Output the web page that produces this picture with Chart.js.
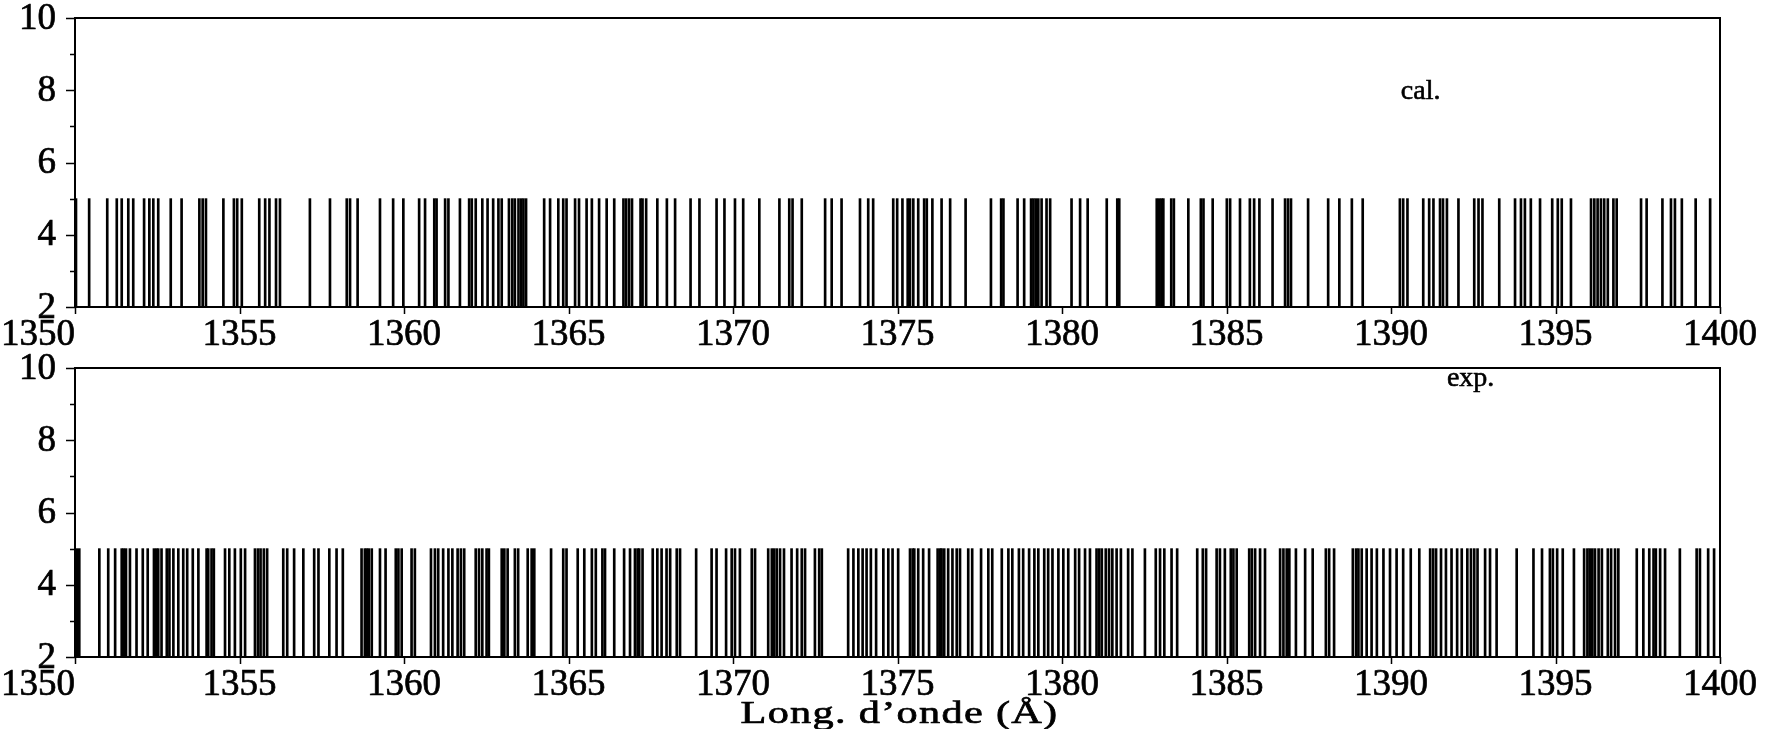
<!DOCTYPE html>
<html>
<head>
<meta charset="utf-8">
<script src="https://cdn.jsdelivr.net/npm/chart.js@4.4.1/dist/chart.umd.min.js"></script>
<style>
  html, body { margin: 0; padding: 0; background: #fff; width: 1785px; height: 729px; overflow: hidden; }
  .panel { position: absolute; left: 0; width: 1785px; }
  #p1 { top: 0; height: 350px; }
  #p2 { top: 350px; height: 379px; }
</style>
</head>
<body>
<div class="panel" id="p1"><canvas id="calChart" width="1785" height="350"></canvas></div>
<div class="panel" id="p2"><canvas id="expChart" width="1785" height="379"></canvas></div>
<script>
// Line positions (Å), calculated spectrum
const calLines = [
  1350.03, 1350.43, 1350.98, 1351.27, 1351.42, 1351.62, 1351.77, 1352.10, 1352.26, 1352.38,
  1352.53, 1352.91, 1353.24, 1353.78, 1353.88, 1353.98, 1354.51, 1354.83, 1354.93, 1355.07,
  1355.60, 1355.78, 1355.91, 1356.11, 1356.23, 1357.14, 1357.75, 1358.26, 1358.36, 1358.59,
  1359.27, 1359.67, 1359.98, 1360.46, 1360.64, 1360.92, 1360.99, 1361.25, 1361.35, 1361.70,
  1361.98, 1362.06, 1362.18, 1362.38, 1362.54, 1362.71, 1362.87, 1362.97, 1363.19, 1363.29,
  1363.37, 1363.48, 1363.56, 1363.63, 1363.71, 1364.26, 1364.44, 1364.69, 1364.84, 1364.94,
  1365.20, 1365.32, 1365.55, 1365.71, 1365.93, 1366.16, 1366.39, 1366.67, 1366.75, 1366.84,
  1366.93, 1367.19, 1367.25, 1367.36, 1367.70, 1367.99, 1368.24, 1368.71, 1368.98, 1369.50,
  1369.74, 1370.06, 1370.31, 1370.80, 1371.41, 1371.71, 1371.81, 1372.09, 1372.80, 1373.00,
  1373.30, 1373.86, 1374.11, 1374.26, 1374.87, 1374.99, 1375.15, 1375.31, 1375.38, 1375.48,
  1375.63, 1375.81, 1375.89, 1376.06, 1376.34, 1376.60, 1377.07, 1377.84, 1378.15, 1378.22,
  1378.65, 1378.85, 1379.06, 1379.13, 1379.20, 1379.28, 1379.38, 1379.53, 1379.64, 1380.29,
  1380.55, 1380.78, 1381.36, 1381.68, 1381.74, 1382.88, 1382.95, 1383.02, 1383.08, 1383.32,
  1383.40, 1383.84, 1384.22, 1384.30, 1384.58, 1385.01, 1385.11, 1385.41, 1385.71, 1385.84,
  1386.00, 1386.40, 1386.78, 1386.87, 1386.96, 1387.48, 1388.09, 1388.43, 1388.81, 1389.14,
  1390.27, 1390.37, 1390.50, 1390.98, 1391.16, 1391.29, 1391.49, 1391.58, 1391.70, 1392.05,
  1392.53, 1392.66, 1392.78, 1393.29, 1393.77, 1393.95, 1394.07, 1394.25, 1394.53, 1394.90,
  1395.07, 1395.19, 1395.47, 1396.08, 1396.18, 1396.28, 1396.38, 1396.48, 1396.59, 1396.76,
  1396.86, 1397.60, 1397.77, 1398.25, 1398.51, 1398.63, 1398.84, 1399.26, 1399.70
];

// Line positions (Å), observed spectrum
const expLines = [
  1350.05, 1350.13, 1350.74, 1351.01, 1351.22, 1351.42, 1351.48, 1351.55, 1351.67, 1351.87,
  1352.06, 1352.21, 1352.40, 1352.47, 1352.53, 1352.63, 1352.79, 1352.87, 1352.99, 1353.14,
  1353.29, 1353.41, 1353.58, 1353.75, 1354.00, 1354.05, 1354.15, 1354.22, 1354.56, 1354.69,
  1354.86, 1355.04, 1355.17, 1355.47, 1355.56, 1355.64, 1355.74, 1355.84, 1356.33, 1356.45,
  1356.66, 1356.94, 1357.27, 1357.40, 1357.73, 1357.95, 1358.14, 1358.71, 1358.81, 1358.87,
  1358.93, 1359.02, 1359.27, 1359.44, 1359.75, 1359.83, 1359.93, 1360.23, 1360.33, 1360.82,
  1360.94, 1361.04, 1361.19, 1361.35, 1361.47, 1361.63, 1361.73, 1361.83, 1362.18, 1362.28,
  1362.38, 1362.51, 1362.58, 1362.97, 1363.05, 1363.15, 1363.37, 1363.47, 1363.76, 1363.88,
  1363.96, 1364.47, 1364.84, 1364.94, 1365.28, 1365.48, 1365.71, 1365.83, 1366.03, 1366.11,
  1366.39, 1366.69, 1366.87, 1367.02, 1367.10, 1367.15, 1367.25, 1367.56, 1367.70, 1367.83,
  1367.98, 1368.09, 1368.29, 1368.39, 1368.88, 1369.35, 1369.50, 1369.79, 1369.96, 1370.06,
  1370.21, 1370.57, 1370.67, 1371.07, 1371.18, 1371.25, 1371.33, 1371.43, 1371.55, 1371.78,
  1371.95, 1372.09, 1372.19, 1372.49, 1372.62, 1372.70, 1373.50, 1373.66, 1373.81, 1373.94,
  1374.06, 1374.19, 1374.35, 1374.57, 1374.72, 1374.85, 1375.02, 1375.38, 1375.46, 1375.51,
  1375.63, 1375.78, 1375.96, 1376.22, 1376.30, 1376.34, 1376.42, 1376.54, 1376.67, 1376.80,
  1376.90, 1377.15, 1377.27, 1377.54, 1377.76, 1377.88, 1378.17, 1378.37, 1378.49, 1378.69,
  1378.82, 1379.00, 1379.16, 1379.28, 1379.46, 1379.58, 1379.71, 1379.89, 1380.04, 1380.19,
  1380.40, 1380.52, 1380.70, 1380.85, 1381.05, 1381.13, 1381.21, 1381.33, 1381.43, 1381.53,
  1381.66, 1381.79, 1382.01, 1382.14, 1382.52, 1382.85, 1382.98, 1383.11, 1383.33, 1383.50,
  1384.11, 1384.28, 1384.38, 1384.70, 1384.80, 1384.95, 1385.13, 1385.21, 1385.31, 1385.69,
  1385.77, 1385.87, 1386.02, 1386.17, 1386.63, 1386.73, 1386.83, 1386.91, 1387.11, 1387.39,
  1387.62, 1388.02, 1388.12, 1388.27, 1388.84, 1388.94, 1389.01, 1389.11, 1389.26, 1389.41,
  1389.57, 1389.77, 1389.97, 1390.17, 1390.37, 1390.60, 1390.86, 1391.19, 1391.28, 1391.37,
  1391.52, 1391.67, 1391.84, 1392.01, 1392.15, 1392.32, 1392.43, 1392.53, 1392.63, 1392.86,
  1393.01, 1393.21, 1393.82, 1394.33, 1394.59, 1394.83, 1394.92, 1395.05, 1395.22, 1395.56,
  1395.87, 1395.97, 1396.04, 1396.12, 1396.20, 1396.31, 1396.41, 1396.59, 1396.69, 1396.81,
  1396.91, 1397.47, 1397.67, 1397.85, 1397.98, 1398.05, 1398.18, 1398.33, 1398.78, 1399.29,
  1399.39, 1399.64, 1399.82
];

// Every stick runs from the baseline up to the same height
const stickBase = 2;
const stickTop = 5;

// Axis ticks
const xTickLabels = [1350, 1355, 1360, 1365, 1370, 1375, 1380, 1385, 1390, 1395, 1400];
const yTickLabels = [2, 4, 6, 8, 10];
const yMinorTicks = [3, 5, 7, 9];

const SERIF = '"Liberation Serif", "Times New Roman", serif';

// Text with a slightly heavier stroke than the regular face
function heavyText(ctx, text, x, y) {
  ctx.fillText(text, x, y);
  ctx.strokeText(text, x, y);
}

// Frame, tick marks, tick labels and annotations drawn on top of the plot
const framePlugin = {
  id: 'frame',
  afterDraw(chart, args, opts) {
    const ctx = chart.ctx;
    const { left, right, top, bottom } = chart.chartArea;
    const xs = chart.scales.x, ys = chart.scales.y;
    ctx.save();
    ctx.strokeStyle = '#000';
    ctx.fillStyle = '#000';
    ctx.lineWidth = 2;
    ctx.strokeRect(left, top, right - left, bottom - top);

    // tick marks
    ctx.lineWidth = 1.5;
    ctx.beginPath();
    yTickLabels.forEach(v => {
      const py = Math.round(ys.getPixelForValue(v)) + 0.5;
      ctx.moveTo(left - 9, py); ctx.lineTo(left, py);
    });
    yMinorTicks.forEach(v => {
      const py = Math.round(ys.getPixelForValue(v)) + 0.5;
      ctx.moveTo(left - 5, py); ctx.lineTo(left, py);
    });
    xTickLabels.forEach(v => {
      const px = Math.round(xs.getPixelForValue(v)) + 0.5;
      ctx.moveTo(px, bottom); ctx.lineTo(px, bottom + 7);
    });
    ctx.stroke();

    // tick labels
    ctx.lineWidth = 0.7;
    ctx.font = `37px ${SERIF}`;
    ctx.textAlign = 'right';
    ctx.textBaseline = 'middle';
    yTickLabels.forEach(v => {
      heavyText(ctx, String(v), left - 19, ys.getPixelForValue(v) + 1);
    });
    ctx.textBaseline = 'top';
    xTickLabels.forEach((v, i) => {
      ctx.textAlign = i === 0 ? 'right' : 'center';
      heavyText(ctx, String(v), xs.getPixelForValue(v), bottom + 10);
    });

    // spectrum tag
    ctx.lineWidth = 0.6;
    ctx.font = `28px ${SERIF}`;
    ctx.textAlign = 'left';
    ctx.textBaseline = 'middle';
    heavyText(ctx, opts.tag, xs.getPixelForValue(opts.tagX), ys.getPixelForValue(opts.tagY));

    // axis title, set in a wide face spanning the middle of the axis
    if (opts.title) {
      ctx.lineWidth = 0.7;
      ctx.font = `32px ${SERIF}`;
      ctx.letterSpacing = '1px';
      ctx.textAlign = 'center';
      ctx.textBaseline = 'alphabetic';
      const w = ctx.measureText(opts.title).width;
      const sx = opts.titleWidth / w;
      ctx.translate((left + right) / 2 + 2, bottom + 66);
      ctx.scale(sx, 1);
      heavyText(ctx, opts.title, 0, 0);
    }
    ctx.restore();
  }
};

function makeChart(canvasId, lines, frameOpts, bottomSpace) {
  return new Chart(document.getElementById(canvasId), {
    type: 'bar',
    data: {
      datasets: [{
        data: lines.map(w => ({ x: w, y: [stickBase, stickTop] })),
        backgroundColor: '#000',
        borderWidth: 0,
        barThickness: 2,
        grouped: false
      }]
    },
    options: {
      responsive: false,
      animation: false,
      devicePixelRatio: 1,
      layout: { padding: { top: 18, right: 65, left: 0, bottom: 0 } },
      plugins: { legend: { display: false }, tooltip: { enabled: false }, frame: frameOpts },
      scales: {
        x: {
          type: 'linear', min: 1350, max: 1400, offset: false,
          ticks: { display: false, stepSize: 5 },
          grid: { display: false, offset: false },
          border: { display: false },
          afterFit(scale) { scale.height = bottomSpace; }
        },
        y: {
          min: 2, max: 10,
          ticks: { display: false, stepSize: 2 },
          grid: { display: false },
          border: { display: false },
          afterFit(scale) { scale.width = 75; }
        }
      }
    },
    plugins: [framePlugin]
  });
}

makeChart('calChart', calLines, { tag: 'cal.', tagX: 1390.3, tagY: 7.95 }, 43);
makeChart('expChart', expLines, {
  tag: 'exp.', tagX: 1391.7, tagY: 9.7,
  title: "Long. d\u2019onde (\u00C5)", titleWidth: 318
}, 72);
</script>
</body>
</html>
